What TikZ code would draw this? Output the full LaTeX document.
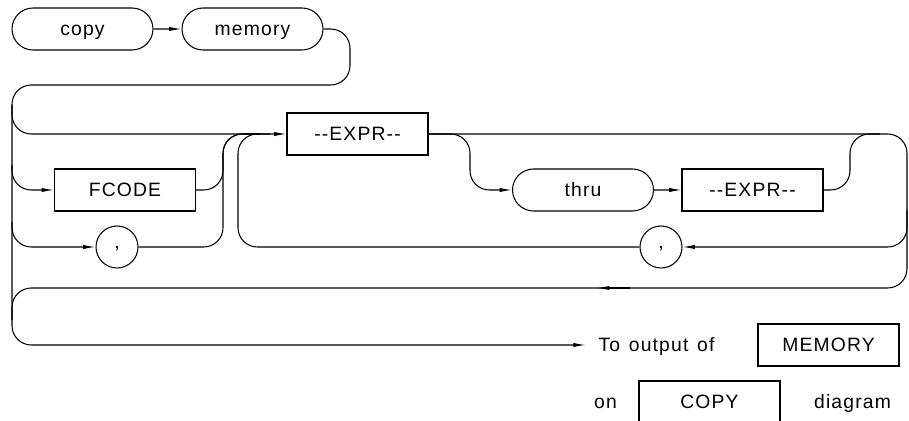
\documentclass[tikz,border=0pt]{standalone}
\usepackage{fontspec}
\setsansfont[LetterSpace=6]{Liberation Sans}
\usetikzlibrary{arrows.meta,shapes.misc}

\begin{document}
\begin{tikzpicture}[x=0.02cm,y=-0.02cm,line width=.6pt]
	\tikzset{term/.style = {draw,rounded rectangle,minimum width=2.82cm,minimum height=.84cm,inner sep=0pt,text height=7.9pt,text depth=0pt,font=\sffamily\fontsize{11}{13}\selectfont}}
	\tikzset{nonterm/.style = {draw,rectangle,minimum width=2.82cm,minimum height=.84cm,inner sep=0pt,text height=7.9pt,text depth=0pt,font=\sffamily\fontsize{11}{13}\selectfont}}
	\tikzset{punct/.style = {draw,circle,minimum size=.84cm,inner sep=0pt,text height=2pt,text depth=0pt,font=\sffamily\fontsize{11}{13}\selectfont}}
	\tikzset{note/.style = {inner sep=0pt,text height=7.9pt,text depth=0pt,font=\sffamily\fontsize{11}{13}\selectfont}}
	\tikzset{track/.style={rounded corners=11pt}}
	\tikzset{flow/.style={-{Latex[length=7pt,width=2.4pt]}}}

	\useasboundingbox (0,0) rectangle (909,421);

	% nodes
	\node[term] (copy) at (82.5,29) {copy};
	\node[term] (memory) at (252.5,29) {memory};
	\node[nonterm] (fcode) at (125,190) {FCODE};
	\node[punct] (comma1) at (117,247) {,};
	\node[nonterm] (expr1) at (357.5,134) {-{}-EXPR-{}-};
	\node[term] (thru) at (583,190) {thru};
	\node[nonterm] (expr2) at (752.5,190) {-{}-EXPR-{}-};
	\node[punct] (comma2) at (661,247) {,};
	\node[note,anchor=west] (output) at (598,345) {To\hspace{5pt}output\hspace{5pt}of};
	\node[nonterm] (memref) at (828.5,345) {MEMORY};
	\node[note] (on) at (605.5,402) {on};
	\node[nonterm] (copyref) at (709.5,402) {COPY};
	\node[note] (diagram) at (852.5,402) {diagram};

	% junctions
	\coordinate (lrail) at (12,105);
	\coordinate (back) at (597,288);
	\coordinate (backtail) at (630,288);

	% connectors
	\draw[flow] (copy) -- (memory);
	\draw[track,flow] (memory.east) -- (350,29) -- (350,85) -- (12,85) -- (12,134) -- (expr1.west);
	\draw[track,flow] (lrail) -- (12,345) -- ([xshift=-7pt]output.west);
	\draw[track,flow] (12,165) |- (fcode.west);
	\draw[track,flow] (12,222) |- (comma1.west);
	\draw[track] (fcode.east) -- (223,190) -- (223,134) -- (260,134);
	\draw[track] (comma1.east) -- (223,247) -- (223,134) -- (260,134);
	\draw[track] (comma2.west) -- (238,247) -- (238,134) -- (270,134);
	\draw[track,flow] (expr1.east) -- (470,134) -- (470,190) -- (thru.west);
	\draw[flow] (thru) -- (expr2);
	\draw[track] (expr2.east) -- (850,190) -- (850,134) -- (880,134);
	\draw[track] (expr1.east) -- (907,134) -- (907,288) -- (12,288) -- (12,320);
	\draw[flow] (backtail) -- (back);
	\draw[track,flow] (907,210) |- (comma2.east);
\end{tikzpicture}
\end{document}
